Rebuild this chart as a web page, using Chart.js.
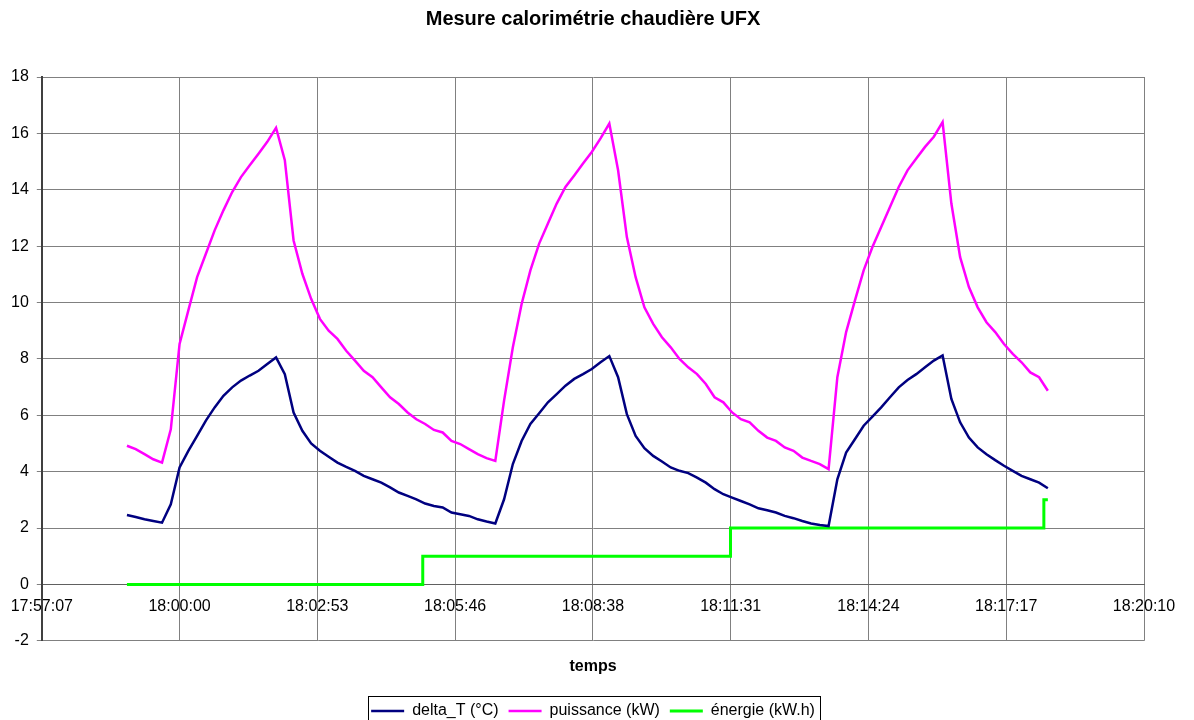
<!DOCTYPE html>
<html lang="fr">
<head>
<meta charset="utf-8">
<title>Mesure calorimétrie chaudière UFX</title>
<script src="https://cdn.jsdelivr.net/npm/chart.js@4/dist/chart.umd.min.js"></script>
<style>
  html, body { margin: 0; padding: 0; background: #fff; }
  #wrap { width: 1194px; height: 720px; }
</style>
</head>
<body>
<div id="wrap"><canvas id="chart" width="1194" height="720"></canvas></div>
<script>
// --- Data ---
const sampleStart = '17:58:54';
const sampleStepSec = 11;

const deltaT = [
  2.46, 2.39, 2.31, 2.25, 2.19, 2.84, 4.15, 4.74, 5.27, 5.81,
  6.28, 6.69, 6.99, 7.23, 7.41, 7.58, 7.82, 8.05, 7.46, 6.10,
  5.45, 5.00, 4.74, 4.53, 4.32, 4.17, 4.03, 3.85, 3.73, 3.61,
  3.44, 3.26, 3.14, 3.02, 2.87, 2.78, 2.73, 2.55, 2.49, 2.43,
  2.31, 2.23, 2.16, 3.02, 4.27, 5.09, 5.69, 6.07, 6.46, 6.75,
  7.05, 7.29, 7.46, 7.64, 7.88, 8.10, 7.35, 6.04, 5.27, 4.83,
  4.56, 4.36, 4.15, 4.03, 3.95, 3.79, 3.61, 3.38, 3.20, 3.08,
  2.96, 2.84, 2.70, 2.63, 2.55, 2.43, 2.35, 2.25, 2.16, 2.11,
  2.07, 3.73, 4.68, 5.15, 5.63, 5.95, 6.28, 6.64, 6.99, 7.25,
  7.46, 7.70, 7.94, 8.12, 6.58, 5.75, 5.21, 4.86, 4.62, 4.41,
  4.21, 4.03, 3.85, 3.73, 3.61, 3.41
];

const puissance = [
  4.92, 4.80, 4.62, 4.44, 4.32, 5.50, 8.53, 9.72, 10.90, 11.73,
  12.56, 13.27, 13.92, 14.45, 14.87, 15.28, 15.70, 16.20, 15.05, 12.20,
  11.02, 10.13, 9.42, 9.00, 8.71, 8.29, 7.94, 7.58, 7.35, 6.99,
  6.64, 6.40, 6.10, 5.86, 5.69, 5.48, 5.39, 5.09, 4.98, 4.80,
  4.62, 4.48, 4.38, 6.52, 8.41, 9.95, 11.14, 12.09, 12.80, 13.51,
  14.10, 14.51, 14.93, 15.34, 15.82, 16.35, 14.69, 12.32, 10.90, 9.83,
  9.24, 8.77, 8.41, 8.00, 7.70, 7.46, 7.11, 6.64, 6.46, 6.10,
  5.86, 5.75, 5.45, 5.21, 5.09, 4.86, 4.74, 4.50, 4.38, 4.27,
  4.09, 7.35, 8.95, 10.07, 11.14, 11.97, 12.68, 13.39, 14.10, 14.69,
  15.11, 15.52, 15.88, 16.40, 13.51, 11.61, 10.55, 9.83, 9.30, 8.95,
  8.53, 8.18, 7.88, 7.52, 7.35, 6.87
];

const energyTimes = ['17:58:54', '18:05:05', '18:11:31', '18:18:04', '18:18:09'];
const energyValues = [0, 1, 2, 3, 3];

const timeTickLabels = [
  '17:57:07', '18:00:00', '18:02:53', '18:05:46', '18:08:38',
  '18:11:31', '18:14:24', '18:17:17', '18:20:10'
];
const yTickMin = -2;
const yTickMax = 18;
const yTickStep = 2;

// Excel axis: 0.748 day -> 0.764 day, major unit 0.002 day
const axisStartSec = 0.748 * 86400;
const axisMajorSec = 0.002 * 86400;

// --- Helpers ---
function toSec(hms) {
    const [h, m, s] = hms.split(':').map(Number);
    return h * 3600 + m * 60 + s;
}

const startSec = toSec(sampleStart);
const sampleTimes = deltaT.map((_, i) => startSec + i * sampleStepSec);
const tickValues = timeTickLabels.map((_, i) => axisStartSec + i * axisMajorSec);

// Frame around the legend, like the Excel original
const legendFrame = {
    id: 'legendFrame',
    afterDraw(chart) {
        const boxes = chart.legend && chart.legend.legendHitBoxes;
        if (!boxes || !boxes.length) return;
        const left = Math.min(...boxes.map(b => b.left));
        const right = Math.max(...boxes.map(b => b.left + b.width));
        const top = Math.min(...boxes.map(b => b.top));
        const bottom = Math.max(...boxes.map(b => b.top + b.height));
        const ctx = chart.ctx;
        ctx.save();
        ctx.strokeStyle = '#000';
        ctx.lineWidth = 1;
        ctx.strokeRect(Math.round(left - 3) + 0.5, Math.round(top - 7) + 0.5,
                       Math.round(right - left + 8), Math.round(bottom - top + 14));
        ctx.restore();
    }
};

Chart.defaults.font.family = '"Liberation Sans", Arial, sans-serif';
Chart.defaults.color = '#000';

const ctx = document.getElementById('chart').getContext('2d');
new Chart(ctx, {
    type: 'line',
    data: {
        datasets: [
            {
                label: 'delta_T (°C)',
                data: deltaT.map((v, i) => ({ x: sampleTimes[i], y: v })),
                borderColor: '#000080', backgroundColor: '#000080',
                borderWidth: 2.5, pointRadius: 0, tension: 0
            },
            {
                label: 'puissance (kW)',
                data: puissance.map((v, i) => ({ x: sampleTimes[i], y: v })),
                borderColor: '#ff00ff', backgroundColor: '#ff00ff',
                borderWidth: 2.5, pointRadius: 0, tension: 0
            },
            {
                label: 'énergie (kW.h)',
                data: energyTimes.map((t, i) => ({ x: toSec(t), y: energyValues[i] })),
                borderColor: '#00ff00', backgroundColor: '#00ff00',
                borderWidth: 3, pointRadius: 0, stepped: true
            }
        ]
    },
    options: {
        responsive: false,
        animation: false,
        layout: { padding: { left: 3, right: 11, top: 0, bottom: -9 } },
        scales: {
            x: {
                type: 'linear',
                position: { y: 0 },
                min: axisStartSec,
                max: axisStartSec + (timeTickLabels.length - 1) * axisMajorSec,
                afterBuildTicks: axis => { axis.ticks = tickValues.map(v => ({ value: v })); },
                ticks: {
                    callback: (value, index) => timeTickLabels[index],
                    font: { size: 16 }, color: '#000', padding: 8,
                    maxRotation: 0, autoSkip: false
                },
                grid: { color: '#808080', lineWidth: 1, tickLength: 5 },
                border: { color: '#606060', width: 1 }
            },
            y: {
                min: yTickMin,
                max: yTickMax,
                ticks: { stepSize: yTickStep, font: { size: 16 }, color: '#000', padding: 8 },
                grid: { color: '#808080', lineWidth: 1, tickLength: 5 },
                border: { color: '#404040', width: 2 }
            },
            // empty right margin so the plot ends where the original does
            y2: {
                position: 'right',
                ticks: { display: false },
                grid: { display: false },
                border: { display: false },
                afterFit: scale => { scale.width = 39; }
            }
        },
        plugins: {
            title: {
                display: true,
                text: 'Mesure calorimétrie chaudière UFX',
                font: { size: 20, weight: 'bold' }, color: '#000',
                padding: { top: 7, bottom: 46 }
            },
            subtitle: {
                display: true,
                text: 'temps',
                position: 'bottom',
                weight: 500,
                font: { size: 16, weight: 'bold' }, color: '#000',
                padding: { top: 16, bottom: 17 }
            },
            legend: {
                position: 'bottom',
                labels: {
                    usePointStyle: true, pointStyle: 'line', pointStyleWidth: 33,
                    font: { size: 16 }, color: '#000', padding: 10
                }
            },
            tooltip: { enabled: false }
        }
    },
    plugins: [legendFrame]
});
</script>
</body>
</html>
